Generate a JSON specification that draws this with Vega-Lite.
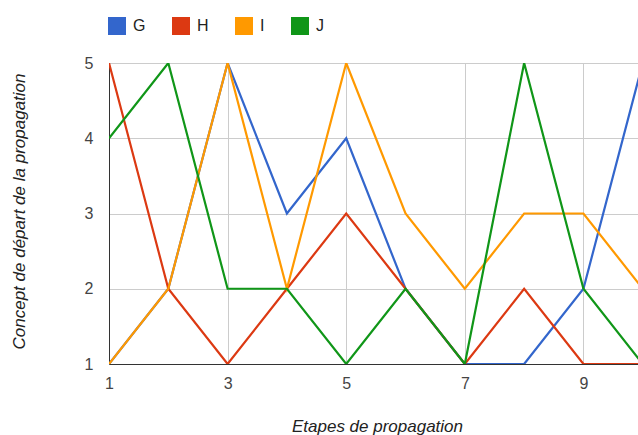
{
  "$schema": "https://vega.github.io/schema/vega-lite/v6.json",
  "autosize": "none",
  "width": 529,
  "height": 301,
  "padding": {"left": 109, "top": 63, "right": 0, "bottom": 71},
  "background": "white",
  "config": {
    "font": "Liberation Sans",
    "view": {"stroke": null}
  },
  "data": {
    "values": [
      {"etape": 1, "serie": "G", "concept": 1},
      {"etape": 2, "serie": "G", "concept": 2},
      {"etape": 3, "serie": "G", "concept": 5},
      {"etape": 4, "serie": "G", "concept": 3},
      {"etape": 5, "serie": "G", "concept": 4},
      {"etape": 6, "serie": "G", "concept": 2},
      {"etape": 7, "serie": "G", "concept": 1},
      {"etape": 8, "serie": "G", "concept": 1},
      {"etape": 9, "serie": "G", "concept": 2},
      {"etape": 10, "serie": "G", "concept": 5},
      {"etape": 1, "serie": "H", "concept": 5},
      {"etape": 2, "serie": "H", "concept": 2},
      {"etape": 3, "serie": "H", "concept": 1},
      {"etape": 4, "serie": "H", "concept": 2},
      {"etape": 5, "serie": "H", "concept": 3},
      {"etape": 6, "serie": "H", "concept": 2},
      {"etape": 7, "serie": "H", "concept": 1},
      {"etape": 8, "serie": "H", "concept": 2},
      {"etape": 9, "serie": "H", "concept": 1},
      {"etape": 10, "serie": "H", "concept": 1},
      {"etape": 1, "serie": "I", "concept": 1},
      {"etape": 2, "serie": "I", "concept": 2},
      {"etape": 3, "serie": "I", "concept": 5},
      {"etape": 4, "serie": "I", "concept": 2},
      {"etape": 5, "serie": "I", "concept": 5},
      {"etape": 6, "serie": "I", "concept": 3},
      {"etape": 7, "serie": "I", "concept": 2},
      {"etape": 8, "serie": "I", "concept": 3},
      {"etape": 9, "serie": "I", "concept": 3},
      {"etape": 10, "serie": "I", "concept": 2},
      {"etape": 1, "serie": "J", "concept": 4},
      {"etape": 2, "serie": "J", "concept": 5},
      {"etape": 3, "serie": "J", "concept": 2},
      {"etape": 4, "serie": "J", "concept": 2},
      {"etape": 5, "serie": "J", "concept": 1},
      {"etape": 6, "serie": "J", "concept": 2},
      {"etape": 7, "serie": "J", "concept": 1},
      {"etape": 8, "serie": "J", "concept": 5},
      {"etape": 9, "serie": "J", "concept": 2},
      {"etape": 10, "serie": "J", "concept": 1}
    ]
  },
  "mark": {"type": "line", "strokeWidth": 2.2, "clip": true},
  "encoding": {
    "x": {
      "field": "etape",
      "type": "quantitative",
      "scale": {"domain": [1, 9.92], "nice": false, "zero": false},
      "axis": {
        "title": "Etapes de propagation",
        "values": [1, 3, 5, 7, 9],
        "grid": true,
        "gridColor": "#cccccc",
        "domainColor": "#333333",
        "domainWidth": 1,
        "ticks": false,
        "labelFlush": false,
        "labelPadding": 11,
        "labelFontSize": 16,
        "labelColor": "#444444",
        "titleFontSize": 17,
        "titleFontStyle": "italic",
        "titleFontWeight": "normal",
        "titleColor": "#222222",
        "titleX": 268,
        "titleY": 67,
        "titleBaseline": "alphabetic",
        "titleAlign": "center"
      }
    },
    "y": {
      "field": "concept",
      "type": "quantitative",
      "scale": {"domain": [1, 5], "nice": false, "zero": false},
      "axis": {
        "title": "Concept de départ de la propagation",
        "values": [1, 2, 3, 4, 5],
        "format": "d",
        "grid": true,
        "gridColor": "#cccccc",
        "domainColor": "#333333",
        "domainWidth": 1,
        "ticks": false,
        "labelFlush": false,
        "labelPadding": 16,
        "labelFontSize": 16,
        "labelColor": "#444444",
        "titleFontSize": 17,
        "titleFontStyle": "italic",
        "titleFontWeight": "normal",
        "titleColor": "#222222",
        "titleX": -85,
        "titleY": 148,
        "titleAlign": "center",
        "titleBaseline": "alphabetic"
      }
    },
    "color": {
      "field": "serie",
      "type": "nominal",
      "scale": {"domain": ["G", "H", "I", "J"], "range": ["#3366cc", "#dc3912", "#ff9900", "#109618"]},
      "legend": {
        "title": null,
        "orient": "none",
        "direction": "horizontal",
        "legendX": -1,
        "legendY": -46,
        "padding": 0,
        "symbolType": "square",
        "symbolSize": 324,
        "symbolStrokeWidth": 0,
        "labelFontSize": 16,
        "labelColor": "#222222",
        "labelOffset": 7,
        "columnPadding": 26,
        "encode": {
          "symbols": {"update": {"fill": {"scale": "color", "field": "value"}, "strokeWidth": {"value": 0}}}
        }
      }
    }
  }
}
